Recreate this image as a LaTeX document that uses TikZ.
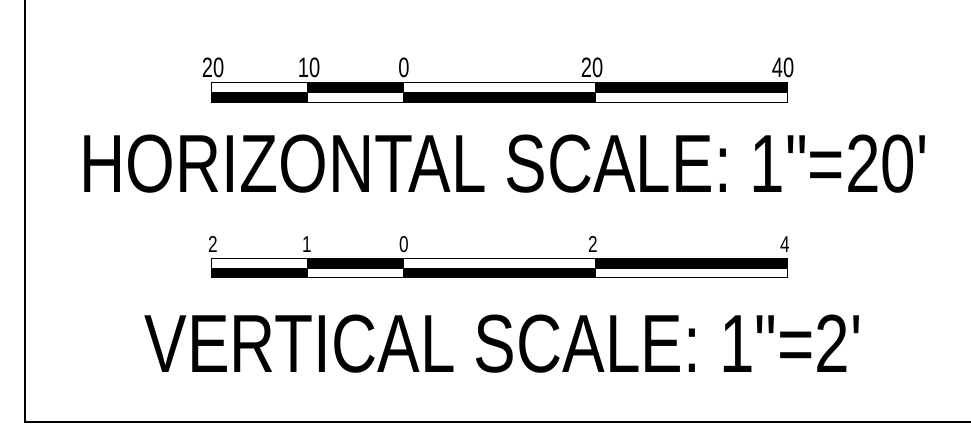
\documentclass[tikz,border=0pt]{standalone}
\usepackage{fontspec}
\setmainfont{Liberation Sans}[Ligatures=TeXOff]
\begin{document}
\begin{tikzpicture}[x=1pt,y=-1pt,
 big/.style={anchor=base,inner sep=0,xscale=0.776,font=\fontsize{82.4}{90}\selectfont},
 labA/.style={anchor=base,inner sep=0,xscale=0.72,font=\fontsize{28}{30}\selectfont},
 labB/.style={anchor=base,inner sep=0,xscale=0.75,font=\fontsize{23}{26}\selectfont},
 blk/.style={fill=black,draw=black,line width=1pt},
 wht/.style={fill=white,draw=black,line width=1pt}]
\useasboundingbox (0,0) rectangle (971,434);
\draw[line width=2pt] (24.5,0) -- (24.5,422) -- (971,422);
% bar 1
\draw[wht] (211,82) rectangle (307,92);
\draw[blk] (307,82) rectangle (403,92);
\draw[wht] (403,82) rectangle (595,92);
\draw[blk] (595,82) rectangle (787,92);
\draw[blk] (211,92) rectangle (307,102);
\draw[wht] (307,92) rectangle (403,102);
\draw[blk] (403,92) rectangle (595,102);
\draw[wht] (595,92) rectangle (787,102);
\node[labA] (a1) at (213,77) {20};
\node[labA] (a2) at (309,77) {10};
\node[labA] (a3) at (404,77) {0};
\node[labA] (a4) at (592,77) {20};
\node[labA] (a5) at (783,77) {40};
\node[big] (h) at (504,192) {HORIZONTAL SCALE: 1"=20'};
% bar 2
\draw[wht] (211,258) rectangle (307,268);
\draw[blk] (307,258) rectangle (403,268);
\draw[wht] (403,258) rectangle (595,268);
\draw[blk] (595,258) rectangle (787,268);
\draw[blk] (211,268) rectangle (307,277);
\draw[wht] (307,268) rectangle (403,277);
\draw[blk] (403,268) rectangle (595,277);
\draw[wht] (595,268) rectangle (787,277);
\node[labB] (b1) at (213,252) {2};
\node[labB] (b2) at (307,252) {1};
\node[labB] (b3) at (404,252) {0};
\node[labB] (b4) at (593,252) {2};
\node[labB] (b5) at (785,252) {4};
\node[big] (v) at (503.5,372) {VERTICAL SCALE: 1"=2'};
\end{tikzpicture}
\end{document}
